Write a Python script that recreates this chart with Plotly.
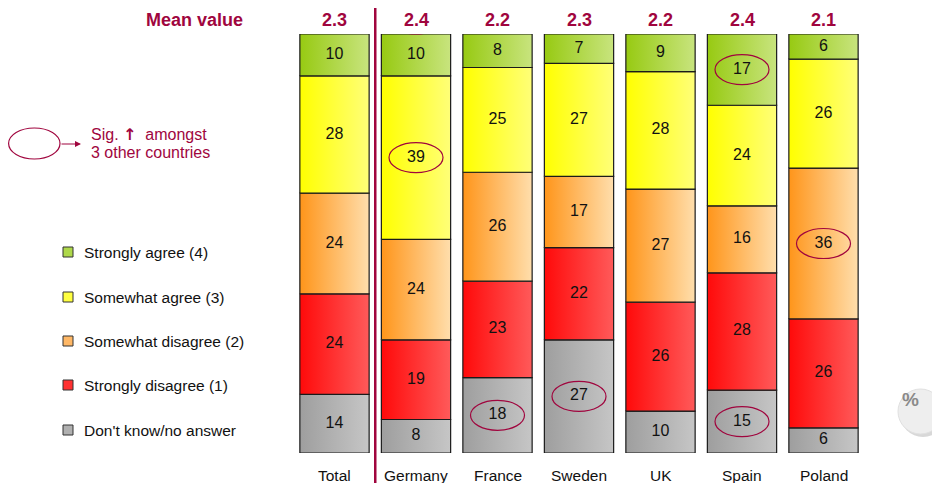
import plotly.graph_objects as go

# ---- data ----
countries = ["Total", "Germany", "France", "Sweden", "UK", "Spain", "Poland"]
mean_values = ["2.3", "2.4", "2.2", "2.3", "2.2", "2.4", "2.1"]

strongly_agree = [10, 10, 8, 7, 9, 17, 6]
somewhat_agree = [28, 39, 25, 27, 28, 24, 26]
somewhat_disagree = [24, 24, 26, 17, 27, 16, 36]
strongly_disagree = [24, 19, 23, 22, 26, 28, 26]
dont_know = [14, 8, 18, 27, 10, 15, 6]

legend_labels = ["Strongly agree (4)", "Somewhat agree (3)", "Somewhat disagree (2)",
                 "Strongly disagree (1)", "Don't know/no answer"]

# significant cells (country, series) and significant means
sig_cells = [("Germany", "somewhat_agree"), ("Spain", "strongly_agree"),
             ("Poland", "somewhat_disagree"), ("France", "dont_know"),
             ("Sweden", "dont_know"), ("Spain", "dont_know")]
sig_means = ["Germany"]

DARK_RED = "#A0053E"
FONT = "Liberation Sans, Arial, sans-serif"

# the page body adds an 8px margin, so work in window pixels and shift
W, H, OFF = 940, 483, 8


def xp(px):
    return (px - OFF) / W


def yp(py):
    return 1 - (py - OFF) / H


# stacked bottom -> top
series = [
    ("dont_know", dont_know, ["#9E9E9E", "#C6C6C6"], "#B0B0B0"),
    ("strongly_disagree", strongly_disagree, ["#FF0A0A", "#FF5A5A"], "#FF3030"),
    ("somewhat_disagree", somewhat_disagree, ["#FF951A", "#FFDEAC"], "#FFB866"),
    ("somewhat_agree", somewhat_agree, ["#FFFF00", "#FFFF78"], "#FFFF40"),
    ("strongly_agree", strongly_agree, ["#97CA12", "#C8E47E"], "#AED84A"),
]

BAR_W = 0.85
fig = go.Figure()

label_pos = {}
base = [0] * len(countries)
for key, vals, grad, _ in series:
    xs_txt, ys_txt = [], []
    for i, v in enumerate(vals):
        x0, x1 = i - BAR_W / 2, i + BAR_W / 2
        y0, y1 = base[i], base[i] + v
        fig.add_trace(go.Scatter(
            x=[x0, x1, x1, x0, x0], y=[y0, y0, y1, y1, y0],
            mode="lines", fill="toself",
            fillgradient=dict(type="horizontal", colorscale=[[0, grad[0]], [1, grad[1]]]),
            line=dict(color="#1A1A1A", width=1.2),
            hoverinfo="skip", showlegend=False,
        ))
        xs_txt.append(i)
        ys_txt.append((y0 + y1) / 2)
        label_pos[(countries[i], key)] = (i, (y0 + y1) / 2)
        base[i] = y1
    fig.add_trace(go.Scatter(
        x=xs_txt, y=ys_txt, mode="text", text=[str(v) for v in vals],
        textfont=dict(family=FONT, size=16, color="#111111"),
        hoverinfo="skip", showlegend=False,
    ))

annotations = []
shapes = []

# mean values
annotations.append(dict(text="<b>Mean value</b>", xref="paper", yref="paper",
                        x=xp(245), y=yp(20), yanchor="middle", xanchor="right",
                        showarrow=False, font=dict(family=FONT, size=18, color=DARK_RED)))
for i, m in enumerate(mean_values):
    annotations.append(dict(text=f"<b>{m}</b>", x=i, y=100, xref="x", yref="y",
                            yanchor="middle", yshift=14, showarrow=False,
                            font=dict(family=FONT, size=18, color=DARK_RED)))
    if countries[i] in sig_means:
        shapes.append(dict(type="circle", xref="x", yref="y", xsizemode="pixel",
                           ysizemode="pixel", xanchor=i, yanchor=100,
                           x0=-27, x1=27, y0=0, y1=29,
                           line=dict(color=DARK_RED, width=1.2)))

# category labels
for i, c in enumerate(countries):
    annotations.append(dict(text=c, x=i, y=0, xref="x", yref="y", yanchor="top",
                            yshift=-12, showarrow=False,
                            font=dict(family=FONT, size=15.5, color="#111111")))

# significance ellipses
for c, key in sig_cells:
    xi, yc = label_pos[(c, key)]
    shapes.append(dict(type="circle", xref="x", yref="y", xsizemode="pixel",
                       ysizemode="pixel", xanchor=xi, yanchor=yc,
                       x0=-27, x1=27, y0=-15, y1=15,
                       line=dict(color=DARK_RED, width=1.2)))

# separator line between Total and countries
shapes.append(dict(type="line", xref="x", yref="paper", x0=0.5, x1=0.5, y0=0, y1=1,
                   line=dict(color=DARK_RED, width=2.5)))

# custom legend
legend_y = [252, 297, 341, 385, 430]
legend_colors = [s[3] for s in series][::-1]
for lab, ly, col in zip(legend_labels, legend_y, legend_colors):
    shapes.append(dict(type="rect", xref="paper", yref="paper",
                       x0=xp(63), x1=xp(73), y0=yp(ly + 5), y1=yp(ly - 5),
                       fillcolor=col, line=dict(color="#333333", width=1)))
    annotations.append(dict(text=lab, xref="paper", yref="paper", x=xp(82),
                            y=yp(ly), xanchor="left", yanchor="middle",
                            showarrow=False,
                            font=dict(family=FONT, size=15.5, color="#111111")))

# significance key
shapes.append(dict(type="circle", xref="paper", yref="paper",
                   x0=xp(8.6), x1=xp(60), y0=yp(159), y1=yp(128),
                   line=dict(color=DARK_RED, width=1.2)))
annotations.append(dict(text="", xref="paper", yref="paper", x=xp(81), y=yp(144),
                        ax=-21, ay=0, axref="pixel", ayref="pixel",
                        showarrow=True, arrowhead=2, arrowsize=1, arrowwidth=1.2,
                        arrowcolor=DARK_RED))
annotations.append(dict(
    text="Sig. <span style=\"font-family:DejaVu Sans;font-weight:bold\">\u2191</span>  amongst",
    xref="paper", yref="paper", x=xp(89), y=yp(134), xanchor="left", yanchor="middle",
    showarrow=False, font=dict(family=FONT, size=16, color=DARK_RED)))
annotations.append(dict(text="3 other countries", xref="paper", yref="paper",
                        x=xp(89), y=yp(152), xanchor="left", yanchor="middle",
                        showarrow=False, font=dict(family=FONT, size=16, color=DARK_RED)))

# % button
shapes.append(dict(type="circle", xref="paper", yref="paper",
                   x0=xp(900), x1=xp(946), y0=yp(437), y1=yp(391),
                   fillcolor="#D8D8D8", line=dict(width=0)))
shapes.append(dict(type="circle", xref="paper", yref="paper",
                   x0=xp(898), x1=xp(943), y0=yp(434), y1=yp(389),
                   fillcolor="#EEEEEE", line=dict(color="#E0E0E0", width=1)))
annotations.append(dict(text="<b>%</b>", xref="paper", yref="paper", x=xp(921),
                        y=yp(412), showarrow=False,
                        font=dict(family=FONT, size=19, color="#8A8A8A")))

fig.update_layout(
    width=W, height=H,
    margin=dict(l=0, r=0, t=0, b=0),
    paper_bgcolor="white", plot_bgcolor="white",
    showlegend=False,
    xaxis=dict(domain=[xp(293.75), xp(864.25)], range=[-0.5, 6.5], visible=False,
               fixedrange=True),
    yaxis=dict(domain=[yp(453), yp(34)], range=[0, 100], visible=False,
               fixedrange=True),
    annotations=annotations,
    shapes=shapes,
)

fig.write_html("out.html")
